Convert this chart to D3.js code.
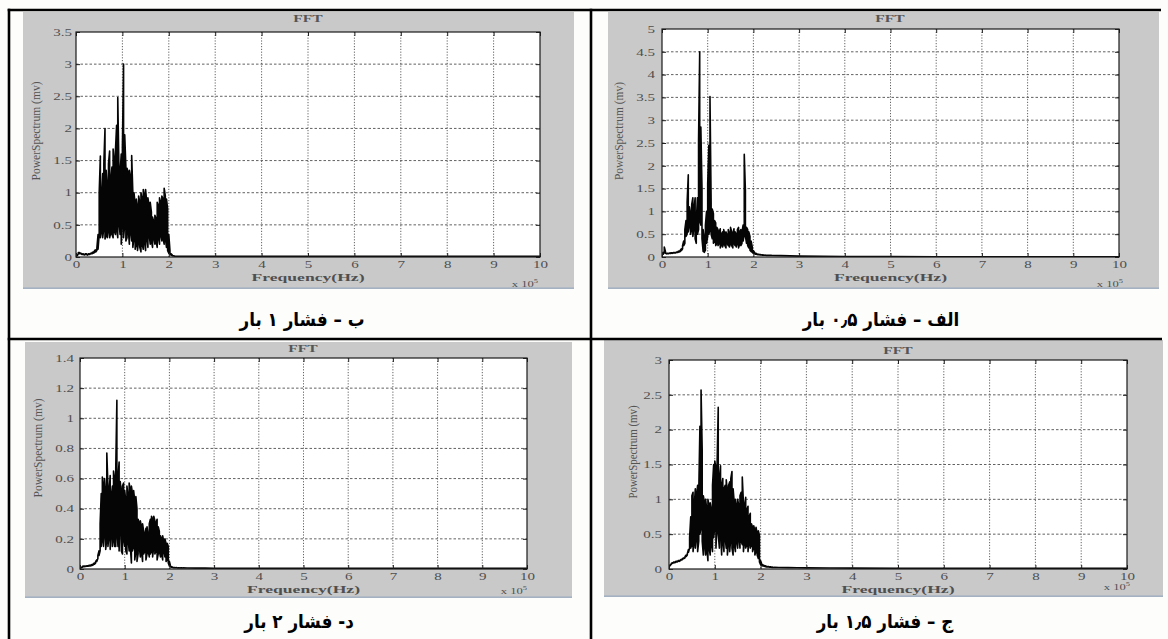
<!DOCTYPE html>
<html><head><meta charset="utf-8">
<script src="https://cdn.jsdelivr.net/npm/d3@7/dist/d3.min.js"></script>
<style>
html,body{margin:0;padding:0;background:#fdfdfb;}
svg{display:block;}
</style></head>
<body>
<svg id="chart" width="1168" height="639"></svg>
<script>
// ---------------- data ----------------
const freqs = [0,0.025,0.05,0.075,0.1,0.125,0.15,0.175,0.2,0.225,0.25,0.275,0.3,0.325,0.35,0.375,0.4,0.425,0.45,0.475,
0.5,0.525,0.55,0.575,0.6,0.625,0.65,0.675,0.7,0.725,0.75,0.775,0.8,0.825,0.85,0.875,0.9,0.925,0.95,0.975,
1,1.025,1.05,1.075,1.1,1.125,1.15,1.175,1.2,1.225,1.25,1.275,1.3,1.325,1.35,1.375,1.4,1.425,1.45,1.475,
1.5,1.525,1.55,1.575,1.6,1.625,1.65,1.675,1.7,1.725,1.75,1.775,1.8,1.825,1.85,1.875,1.9,1.925,1.95,1.975,
2,2.025,2.05,2.075,2.1,2.125,2.15,2.175,2.2,2.225,2.25,2.275,2.3];
const tailFreqs = [2.4,2.6,2.8,3,3.5,4,5,6,7,8,9,10];
const xTickValues = [0,1,2,3,4,5,6,7,8,9,10];
const yTicksP05 = [0,0.5,1,1.5,2,2.5,3,3.5,4,4.5,5];
const yTicksP10 = [0,0.5,1,1.5,2,2.5,3,3.5];
const yTicksP15 = [0,0.5,1,1.5,2,2.5,3];
const yTicksP20 = [0,0.2,0.4,0.6,0.8,1,1.2,1.4];
const chartTitle = "FFT";
const xAxisTitle = "Frequency(Hz)";
const yAxisTitle = "PowerSpectrum (mv)";
const xScaleNote = "x 10";
const xScaleExp = "5";
const captionP10 = "ب – فشار ۱ بار";
const captionP05 = "الف – فشار ۰٫۵ بار";
const captionP20 = "د- فشار ۲ بار";
const captionP15 = "ج – فشار ۱٫۵ بار";

// pressure 1 bar (top-left)
const p10Hi = [0.02,0.03,0.07,0.07,0.06,0.05,0.05,0.04,0.05,0.05,
0.04,0.05,0.05,0.06,0.07,0.08,0.10,0.11,0.14,0.35,
1.0,1.57,0.95,1.3,1.45,2.0,1.35,1.1,1.45,1.65,
1.2,1.4,1.68,1.5,1.65,2.05,2.48,1.4,1.3,1.6,
1.7,3.0,1.9,1.4,1.38,1.3,1.35,1.25,1.58,1.0,
1.0,0.82,0.9,0.78,0.95,0.85,1.0,0.9,1.05,0.95,
1.05,0.85,0.92,0.8,0.85,0.7,0.62,0.55,0.65,0.6,
0.85,0.8,0.92,0.85,0.95,0.9,1.07,0.95,0.9,0.75,
0.35,0.1,0.05,0.03,0.02,0.015,0.012,0.01,0.01,0.01,
0.01,0.01,0.01];
const p10Lo = [0.02,0.02,0.05,0.05,0.05,0.04,0.04,0.03,0.04,0.04,
0.03,0.04,0.04,0.05,0.05,0.06,0.07,0.08,0.1,0.12,
0.35,0.3,0.4,0.3,0.45,0.28,0.35,0.3,0.42,0.3,
0.38,0.35,0.3,0.4,0.35,0.45,0.3,0.55,0.35,0.2,
0.6,0.3,0.5,0.25,0.3,0.45,0.2,0.4,0.25,0.15,
0.3,0.12,0.2,0.1,0.25,0.15,0.08,0.2,0.12,0.25,
0.1,0.3,0.15,0.35,0.2,0.25,0.15,0.3,0.2,0.25,
0.15,0.3,0.2,0.35,0.25,0.3,0.2,0.3,0.15,0.1,
0.06,0.04,0.03,0.02,0.015,0.012,0.01,0.01,0.01,0.01,
0.01,0.01,0.01];
const p10Tail = [0.01,0.01,0.01,0.01,0.01,0.01,0.01,0.01,0.01,0.01,0.01,0.01];

// pressure 0.5 bar (top-right)
const p05Hi = [0.05,0.1,0.22,0.12,0.08,0.08,0.08,0.09,0.09,0.09,
0.1,0.1,0.1,0.11,0.12,0.13,0.15,0.18,0.25,0.35,
0.6,0.8,1.2,1.8,1.1,0.95,1.15,1.3,1.05,1.3,
0.75,1.3,2.55,4.5,2.85,1.5,0.6,0.4,0.7,1.0,
1.6,2.45,3.52,1.2,1.05,0.95,0.8,0.75,0.65,0.6,
0.55,0.62,0.5,0.55,0.6,0.5,0.55,0.48,0.6,0.52,
0.65,0.55,0.5,0.62,0.55,0.5,0.6,0.65,0.55,0.6,
0.55,0.7,2.25,1.45,0.65,0.6,0.55,0.45,0.35,0.22,
0.14,0.1,0.08,0.07,0.06,0.06,0.055,0.05,0.05,0.045,
0.045,0.04,0.04];
const p05Lo = [0.04,0.06,0.1,0.08,0.07,0.07,0.07,0.08,0.08,0.08,
0.09,0.09,0.09,0.1,0.1,0.11,0.12,0.14,0.18,0.25,
0.3,0.45,0.5,0.55,0.7,0.5,0.6,0.45,0.65,0.4,
0.3,0.5,0.6,0.8,0.7,0.4,0.12,0.1,0.15,0.3,
0.45,0.5,0.6,0.5,0.4,0.3,0.35,0.25,0.3,0.25,
0.3,0.2,0.28,0.22,0.3,0.25,0.2,0.3,0.25,0.22,
0.3,0.25,0.2,0.3,0.25,0.22,0.3,0.2,0.28,0.25,
0.3,0.35,0.5,0.45,0.3,0.25,0.2,0.15,0.12,0.1,
0.08,0.07,0.06,0.055,0.05,0.05,0.045,0.045,0.04,0.04,
0.04,0.035,0.035];
const p05Tail = [0.035,0.03,0.025,0.02,0.015,0.012,0.008,0.006,0.005,0.005,0.005,0.005];

// pressure 2 bar (bottom-left)
const p20Hi = [0,0.01,0.015,0.02,0.02,0.02,0.022,0.022,0.025,0.025,
0.028,0.03,0.035,0.04,0.05,0.06,0.09,0.12,0.3,0.5,
0.61,0.55,0.6,0.5,0.77,0.55,0.5,0.62,0.48,0.55,
0.65,0.6,0.67,1.12,0.6,0.71,0.58,0.5,0.55,0.57,
0.52,0.45,0.55,0.48,0.57,0.52,0.55,0.5,0.52,0.45,
0.48,0.4,0.33,0.3,0.32,0.28,0.3,0.25,0.22,0.27,
0.28,0.22,0.3,0.33,0.35,0.33,0.35,0.32,0.3,0.33,
0.28,0.25,0.22,0.2,0.22,0.18,0.2,0.17,0.17,0.15,
0.05,0.02,0.015,0.012,0.01,0.01,0.01,0.008,0.008,0.008,
0.008,0.008,0.008];
const p20Lo = [0,0.008,0.012,0.015,0.016,0.017,0.018,0.018,0.02,0.02,
0.022,0.024,0.028,0.032,0.04,0.05,0.07,0.09,0.12,0.15,
0.2,0.15,0.25,0.13,0.2,0.15,0.22,0.13,0.25,0.15,
0.2,0.15,0.15,0.25,0.15,0.12,0.3,0.12,0.1,0.2,
0.15,0.12,0.1,0.2,0.12,0.15,0.04,0.12,0.15,0.06,
0.12,0.05,0.1,0.15,0.08,0.12,0.05,0.1,0.12,0.06,
0.1,0.12,0.08,0.1,0.12,0.08,0.15,0.1,0.12,0.06,
0.1,0.12,0.08,0.1,0.06,0.12,0.08,0.05,0.06,0.04,
0.02,0.015,0.012,0.01,0.008,0.008,0.008,0.007,0.007,0.007,
0.007,0.007,0.007];
const p20Tail = [0.007,0.006,0.006,0.005,0.005,0.005,0.005,0.005,0.005,0.005,0.005,0.005];

// pressure 1.5 bar (bottom-right)
const p15Hi = [0.02,0.06,0.08,0.09,0.1,0.1,0.11,0.11,0.12,0.12,
0.13,0.14,0.15,0.16,0.18,0.2,0.22,0.28,0.45,0.75,
1.05,1.1,0.9,1.15,1.05,1.2,1.1,2.05,2.57,1.7,
1.05,0.95,1.0,0.85,1.0,0.9,0.95,0.85,1.2,1.5,
1.55,1.45,1.5,2.32,1.3,1.48,1.2,1.3,1.15,1.2,
1.28,1.1,1.2,1.25,1.3,1.4,1.15,0.95,1.0,0.9,
1.0,0.9,1.05,1.1,1.32,0.95,0.9,1.03,0.85,0.9,
0.75,0.8,0.65,0.6,0.62,0.55,0.6,0.5,0.55,0.48,
0.12,0.07,0.06,0.05,0.045,0.04,0.035,0.035,0.03,0.03,
0.028,0.026,0.025];
const p15Lo = [0.01,0.05,0.07,0.08,0.09,0.09,0.1,0.1,0.11,0.11,
0.12,0.13,0.14,0.15,0.16,0.18,0.2,0.24,0.3,0.3,
0.35,0.25,0.4,0.3,0.45,0.25,0.4,0.5,0.6,0.4,
0.2,0.35,0.2,0.3,0.12,0.3,0.2,0.35,0.25,0.45,
0.6,0.3,0.65,0.5,0.3,0.55,0.2,0.4,0.25,0.45,
0.3,0.2,0.4,0.25,0.45,0.3,0.2,0.35,0.25,0.4,
0.3,0.45,0.3,0.4,0.35,0.25,0.4,0.3,0.35,0.25,
0.4,0.3,0.35,0.25,0.3,0.2,0.25,0.2,0.15,0.1,
0.06,0.05,0.045,0.04,0.035,0.03,0.03,0.028,0.026,0.025,
0.024,0.022,0.022];
const p15Tail = [0.022,0.02,0.018,0.016,0.014,0.012,0.01,0.01,0.01,0.01,0.01,0.01];

// ---------------- layout ----------------
const svg = d3.select("#chart");
const SERIF = "'Liberation Serif','DejaVu Serif',serif";
const TXT = "#4f4f4f";

const panels = [
  {id:"p10", gray:[23,12,574,289], plot:[76,32,540,257], ymax:3.5, yTicks:yTicksP10, hi:p10Hi, lo:p10Lo, tail:p10Tail,
   ylab:[35,131,99], title:[308,22], x10:[538,287], gap:4, caption:captionP10, cap:[302,326]},
  {id:"p05", gray:[608,12,1159,289], plot:[662,29,1119,257], ymax:5, yTicks:yTicksP05, hi:p05Hi, lo:p05Lo, tail:p05Tail,
   ylab:[618,131,98], title:[890,22], x10:[1123,287], gap:7, caption:captionP05, cap:[881,326]},
  {id:"p20", gray:[25,342,572,598], plot:[80,358,527,569], ymax:1.4, yTicks:yTicksP20, hi:p20Hi, lo:p20Lo, tail:p20Tail,
   ylab:[37,448,99], title:[303,352], x10:[527,594], gap:6, caption:captionP20, cap:[299,628]},
  {id:"p15", gray:[604,340,1163,597], plot:[669,360,1127,569], ymax:3, yTicks:yTicksP15, hi:p15Hi, lo:p15Lo, tail:p15Tail,
   ylab:[632,452,93], title:[898,354], x10:[1130,590], gap:7, caption:captionP15, cap:[885,628]}
];

function stretch(sel, k){
  sel.each(function(){
    const w = this.getComputedTextLength();
    d3.select(this).attr("textLength", w*k).attr("lengthAdjust","spacingAndGlyphs");
  });
}

const defs = svg.append("defs");
const captionNodes = [];

panels.forEach(cfg => {
  const g = svg.append("g");
  const [gx0,gy0,gx1,gy1] = cfg.gray;
  g.append("rect").attr("x",gx0).attr("y",gy0).attr("width",gx1-gx0).attr("height",gy1-gy0).attr("fill","#c9c9c9");
  g.append("rect").attr("x",gx0).attr("y",gy1-1.6).attr("width",gx1-gx0).attr("height",1.6).attr("fill","#a3b1c2");
  const [px0,py0,px1,py1] = cfg.plot;
  const x = d3.scaleLinear().domain([0,10]).range([px0,px1]);
  const y = d3.scaleLinear().domain([0,cfg.ymax]).range([py1,py0]);
  g.append("rect").attr("x",px0).attr("y",py0).attr("width",px1-px0).attr("height",py1-py0).attr("fill","#ffffff");

  // grid
  g.append("g").selectAll("line").data(xTickValues.slice(1,-1)).join("line")
    .attr("x1",d=>x(d)).attr("x2",d=>x(d)).attr("y1",py0).attr("y2",py1)
    .attr("stroke","#505050").attr("stroke-width",0.9).attr("stroke-dasharray","1.2,1.6");
  g.append("g").selectAll("line").data(cfg.yTicks.slice(1,-1)).join("line")
    .attr("x1",px0).attr("x2",px1).attr("y1",d=>y(d)).attr("y2",d=>y(d))
    .attr("stroke","#505050").attr("stroke-width",0.9).attr("stroke-dasharray","2.5,2");

  // spectrum
  const pts = [];
  freqs.forEach((f,i) => {
    if (i % 2 === 0) { pts.push([f,cfg.lo[i]]); pts.push([f,cfg.hi[i]]); }
    else { pts.push([f,cfg.hi[i]]); pts.push([f,cfg.lo[i]]); }
  });
  tailFreqs.forEach((f,j) => pts.push([f,cfg.tail[j]]));
  defs.append("clipPath").attr("id","clip-"+cfg.id).append("rect")
    .attr("x",px0).attr("y",py0-1).attr("width",px1-px0).attr("height",py1-py0+1);
  const line = d3.line().x(d=>x(d[0])).y(d=>y(d[1]));
  g.append("path").attr("d",line(pts)).attr("fill","none").attr("stroke","#050505")
    .attr("stroke-width",1.6).attr("stroke-linejoin","round").attr("clip-path","url(#clip-"+cfg.id+")");

  // axes
  const fmt = d => String(+d.toFixed(2));
  const axB = g.append("g").attr("transform",`translate(0,${py1})`)
    .call(d3.axisBottom(x).tickValues(xTickValues).tickSizeInner(-4).tickSizeOuter(0).tickPadding(4).tickFormat(fmt));
  const axL = g.append("g").attr("transform",`translate(${px0},0)`)
    .call(d3.axisLeft(y).tickValues(cfg.yTicks).tickSizeInner(-4).tickSizeOuter(0).tickPadding(cfg.gap).tickFormat(fmt));
  const axT = g.append("g").attr("transform",`translate(0,${py0})`)
    .call(d3.axisTop(x).tickValues(xTickValues).tickSizeInner(-4).tickSizeOuter(0).tickFormat(""));
  const axR = g.append("g").attr("transform",`translate(${px1},0)`)
    .call(d3.axisRight(y).tickValues(cfg.yTicks).tickSizeInner(-4).tickSizeOuter(0).tickFormat(""));
  [axB,axL,axT,axR].forEach(a => {
    a.select(".domain").remove();
    a.selectAll("line").attr("stroke","#222");
    a.attr("font-family",SERIF).attr("font-size",10);
    a.selectAll("text").attr("fill",TXT);
  });
  stretch(axB.selectAll("text"),1.5);
  stretch(axL.selectAll("text"),1.5);

  g.append("rect").attr("x",px0).attr("y",py0).attr("width",px1-px0).attr("height",py1-py0)
    .attr("fill","none").attr("stroke","#1a1a1a").attr("stroke-width",1.2);

  // title
  const t = g.append("text").attr("x",cfg.title[0]).attr("y",cfg.title[1]).attr("text-anchor","middle")
    .attr("font-family",SERIF).attr("font-weight","bold").attr("font-size",10).attr("fill","#555").text(chartTitle);
  stretch(t,1.55);
  // x label
  const xl = g.append("text").attr("x",(px0+px1)/2).attr("y",py1+24).attr("text-anchor","middle")
    .attr("font-family",SERIF).attr("font-weight","bold").attr("font-size",11).attr("fill",TXT).text(xAxisTitle);
  stretch(xl,1.6);
  // x10^5
  const xn = g.append("g").attr("transform",`translate(${cfg.x10[0]},${cfg.x10[1]}) scale(1.4,1)`);
  const xt = xn.append("text").attr("text-anchor","end").attr("font-family",SERIF).attr("font-size",9).attr("fill",TXT);
  xt.append("tspan").text(xScaleNote);
  xt.append("tspan").attr("dy",-4).attr("font-size",6).text(xScaleExp);
  // y label
  g.append("text").attr("transform",`translate(${cfg.ylab[0]},${cfg.ylab[1]}) rotate(-90)`)
    .attr("text-anchor","middle").attr("dominant-baseline","central")
    .attr("font-family",SERIF).attr("font-size",13.5).attr("fill","#555")
    .attr("textLength",cfg.ylab[2]).attr("lengthAdjust","spacingAndGlyphs").text(yAxisTitle);

  // caption
  const cg = svg.append("g").attr("transform",`translate(${cfg.cap[0]},${cfg.cap[1]})`);
  const ct = cg.append("text").attr("x",0).attr("y",0).attr("text-anchor","middle")
    .attr("direction","rtl")
    .attr("font-family","'DejaVu Sans',sans-serif").attr("font-weight","bold").attr("font-size",19)
    .attr("fill","#000").text(cfg.caption);
  captionNodes.push({g:cg, t:ct, cfg});
});

// caption width: scale all by the factor that fits the first caption to its width in the reference
const natural = captionNodes[0].t.node().getComputedTextLength();
const sx = 125 / natural;
captionNodes.forEach(c => c.g.attr("transform",`translate(${c.cfg.cap[0]},${c.cfg.cap[1]}) scale(${sx},1)`));

// table borders
const border = svg.append("g").attr("stroke","#000").attr("stroke-width",2.6);
border.append("line").attr("x1",7.7).attr("x2",1161).attr("y1",10).attr("y2",10);
border.append("line").attr("x1",7.7).attr("x2",1162).attr("y1",339).attr("y2",339);
border.append("line").attr("x1",9).attr("x2",9).attr("y1",8.7).attr("y2",639);
border.append("line").attr("x1",591).attr("x2",591).attr("y1",8.7).attr("y2",639);
</script>
</body></html>
